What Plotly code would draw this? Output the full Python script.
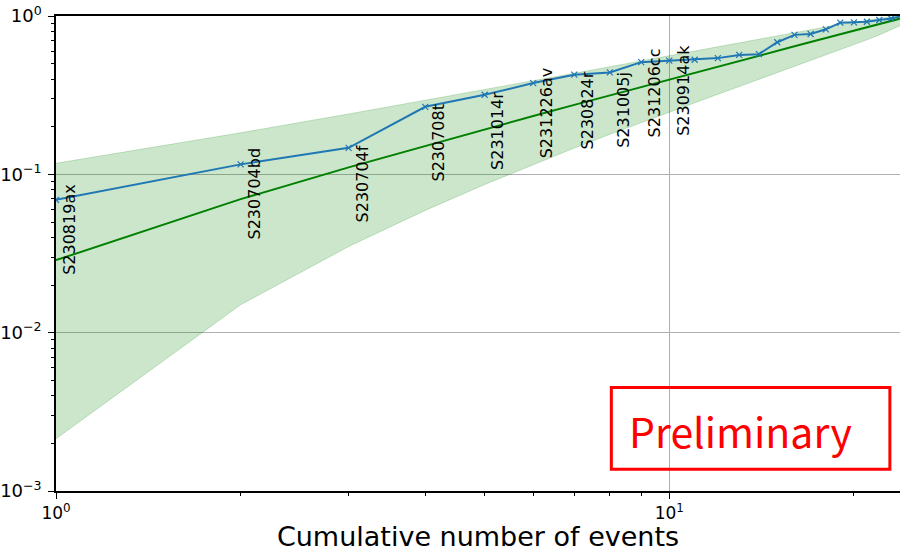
import math
import plotly.graph_objects as go

# Cumulative event index and the observed cumulative fraction
events = list(range(1, 25))
observed = [0.069, 0.1156, 0.147, 0.267, 0.318, 0.377, 0.426, 0.44, 0.511, 0.523,
            0.529, 0.542, 0.568, 0.574, 0.683, 0.76, 0.77, 0.824, 0.908, 0.912,
            0.92, 0.944, 0.965, 1.0]

# Expected curve and its 90% band
expected = [0.0287, 0.0697, 0.1107, 0.1516, 0.1926, 0.2336, 0.2746, 0.3156,
            0.3566, 0.3975, 0.4385, 0.4795, 0.5205, 0.5615, 0.6025, 0.6434,
            0.6844, 0.7254, 0.7664, 0.8074, 0.8484, 0.8893, 0.9303, 0.9713]
band_low = [0.00214, 0.0150, 0.0350, 0.0592, 0.0862, 0.1155, 0.1465, 0.1790,
            0.2125, 0.2475, 0.2835, 0.3205, 0.3585, 0.3975, 0.4380, 0.4790,
            0.5215, 0.5655, 0.6110, 0.6580, 0.7070, 0.7595, 0.8170, 0.8826]
band_high = [0.1174, 0.1830, 0.2405, 0.2930, 0.3420, 0.3890, 0.4345, 0.4785,
             0.5210, 0.5620, 0.6025, 0.6415, 0.6795, 0.7165, 0.7525, 0.7875,
             0.8210, 0.8535, 0.8845, 0.9138, 0.9408, 0.9650, 0.9850, 0.9979]

# Names of the first events along the curve
event_names = ["S230819ax", "S230704bd", "S230704f", "S230708t", "S231014r",
               "S231226av", "S230824r", "S231005j", "S231206cc", "S230914ak"]

x_tickvals = [1, 10]
x_ticktext = ["10<sup>0</sup>", "10<sup>1</sup>"]
y_tickvals = [0.001, 0.01, 0.1, 1]
y_ticktext = ["10<sup>\u22123</sup>", "10<sup>\u22122</sup>", "10<sup>\u22121</sup>", "10<sup>0</sup>"]

FONT = "DejaVu Sans"
BAND = "rgba(0,128,0,0.2)"

fig = go.Figure()

fig.add_trace(go.Scatter(x=events, y=band_low, mode="lines",
                         line=dict(color=BAND, width=1), showlegend=False,
                         hoverinfo="skip"))
fig.add_trace(go.Scatter(x=events, y=band_high, mode="lines", fill="tonexty",
                         fillcolor=BAND, line=dict(color=BAND, width=1),
                         showlegend=False, hoverinfo="skip"))
fig.add_trace(go.Scatter(x=events, y=expected, mode="lines",
                         line=dict(color="#008000", width=2), showlegend=False))
fig.add_trace(go.Scatter(x=events, y=observed, mode="lines+markers",
                         line=dict(color="#1f77b4", width=2),
                         marker=dict(symbol="x-thin", size=6,
                                     line=dict(color="#1f77b4", width=1.2)),
                         showlegend=False))

for n, name in zip(events, event_names):
    fig.add_annotation(x=math.log10(n), y=math.log10(observed[n - 1]),
                       xref="x", yref="y", text=name, textangle=-90,
                       showarrow=False, xanchor="left", yanchor="bottom",
                       xshift=2, yshift=-77,
                       font=dict(family=FONT, size=16, color="black"))

# "Preliminary" stamp
fig.add_shape(type="rect", xref="paper", yref="paper",
              x0=0.658, x1=0.988, y0=0.046, y1=0.218,
              line=dict(color="red", width=3), fillcolor="rgba(0,0,0,0)")
fig.add_annotation(xref="paper", yref="paper", x=0.8107, y=0.128,
                   text="Preliminary", showarrow=False,
                   xanchor="center", yanchor="middle",
                   font=dict(family="Noto Sans CJK JP", size=41, color="red"))

axis_common = dict(
    type="log", showline=True, linecolor="black", linewidth=1.5,
    ticks="outside", ticklen=6, tickwidth=1.2, tickcolor="black",
    showgrid=True, gridcolor="#b0b0b0", gridwidth=1, zeroline=False,
)

fig.update_xaxes(
    **axis_common,
    range=[0, 1.3762], mirror=True,
    tickmode="array", tickvals=x_tickvals, ticktext=x_ticktext,
    tickfont=dict(family=FONT, size=17, color="black"),
    minor=dict(ticks="outside", ticklen=3.5, tickwidth=1, tickcolor="black",
               tickmode="array", tickvals=[2, 3, 4, 5, 6, 7, 8, 9, 20],
               showgrid=False),
    title=dict(text="Cumulative number of events", standoff=10,
               font=dict(family=FONT, size=27, color="black")),
)
fig.update_yaxes(
    **axis_common,
    range=[-3, 0],
    tickmode="array", tickvals=y_tickvals, ticktext=y_ticktext,
    tickfont=dict(family=FONT, size=18, color="black"),
    ticklabelstandoff=3,
    minor=dict(ticks="outside", ticklen=3.5, tickwidth=1, tickcolor="black",
               tickmode="array",
               tickvals=[v * m for v in (0.001, 0.01, 0.1) for m in range(2, 10)],
               showgrid=False),
)

fig.update_layout(
    width=900, height=552,
    margin=dict(l=55, r=0, t=16, b=59, pad=0),
    paper_bgcolor="white", plot_bgcolor="white",
)

fig.write_html("out.html")
